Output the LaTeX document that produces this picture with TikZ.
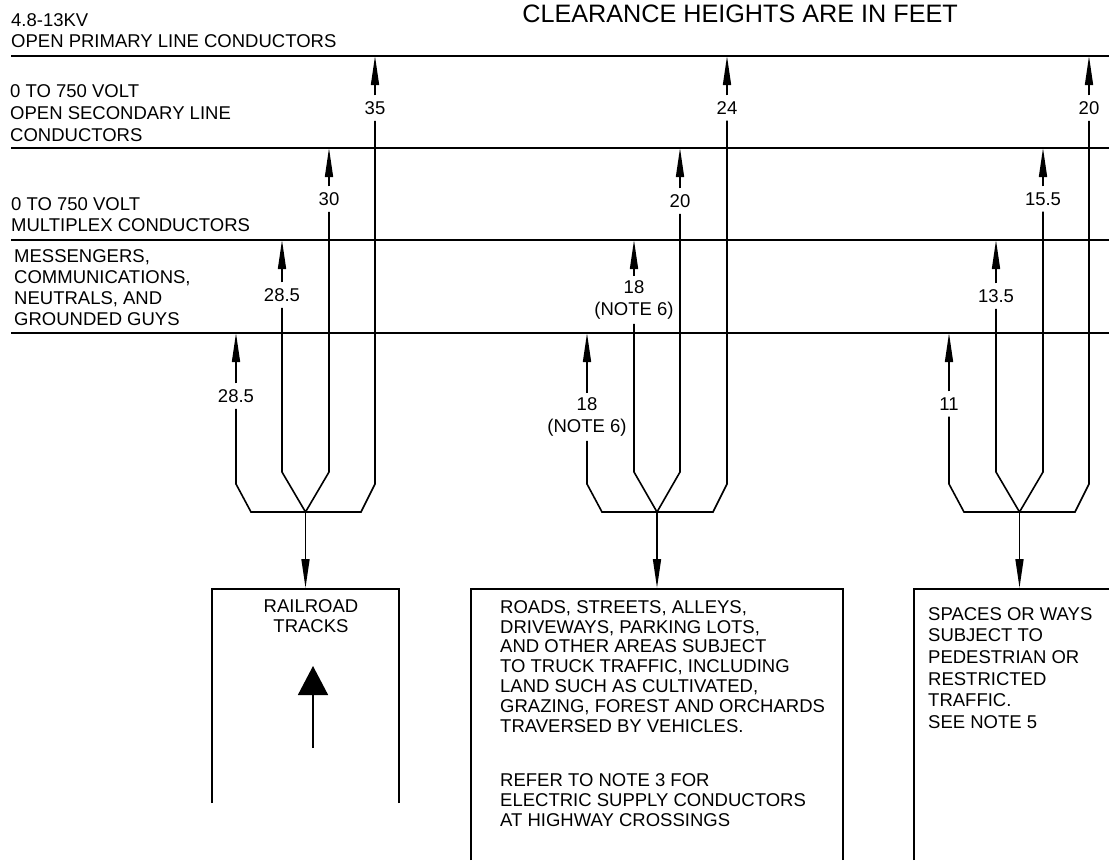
\documentclass[tikz,border=0pt]{standalone}
\usepackage{fontspec}
\setmainfont{Liberation Sans}
\usetikzlibrary{arrows.meta, calc}
% fourche sous une colonne : #1..#4 cotes (gauche a droite), #5 moyeu
\newcommand{\fork}[5]{
  \draw [wire] (#1.south) -- (#1.south |- 0,484) -- ++(15,28) -- ($(#4.south |- 0,512)+(-14,0)$) -- (#4.south |- 0,484) -- (#4.south);
  \draw [wire] (#2.south) -- (#2.south |- 0,472) -- (#5) -- (#3.south |- 0,472) -- (#3.south);
}
% boite ouverte en bas : gauche, droite, bas
\newcommand{\openbox}[3]{
  \draw [wire] (#1,#3) -- (#1,589);
  \draw [wire] (#2,#3) -- (#2,589);
  \draw [line width=2.6pt] (#1-0.8,589) -- (#2+0.8,589);
}
\begin{document}
\begin{tikzpicture}[x=1pt, y=-1pt,
    wire/.style={line width=1.6pt},
    dimline/.style={line width=1.6pt, -{Triangle[length=29pt,width=8pt]}},
    dim/.style={font=\fontsize{18.5}{21}\selectfont, inner xsep=2pt, inner ysep=6pt, align=center},
    dimtwo/.style={dim, inner ysep=4pt, font=\fontsize{18.5}{22.5}\selectfont},
    txt/.style={anchor=north west, inner sep=0pt, align=left, font=\fontsize{18.5}{21}\selectfont}]
    \useasboundingbox (0,0) rectangle (1109,862);

    %titre
    \node [anchor=base east, inner sep=0pt, font=\fontsize{25.2}{30}\selectfont] (title) at (958,23) {CLEARANCE HEIGHTS ARE IN FEET};

    %les conducteurs
    \coordinate (lnP) at (11,56);
    \coordinate (lnS) at (11,148);
    \coordinate (lnM) at (11,240);
    \coordinate (lnC) at (11,333);
    \foreach \c in {lnP,lnS,lnM,lnC}
      \draw [wire] (\c) -- (\c -| 1109,0);

    %noms des conducteurs
    \node [txt] (tP) at (11,13) {4.8-13KV\\OPEN PRIMARY LINE CONDUCTORS};
    \node [txt, font=\fontsize{18.5}{22}\selectfont] (tS) at (10,84) {0 TO 750 VOLT\\OPEN SECONDARY LINE\\CONDUCTORS};
    \node [txt] (tM) at (11,197) {0 TO 750 VOLT\\MULTIPLEX CONDUCTORS};
    \node [txt] (tC) at (14,249) {MESSENGERS,\\COMMUNICATIONS,\\NEUTRALS, AND\\GROUNDED GUYS};

    %cotes colonne rail
    \node [dim] (rP) at (375,108) {35};
    \node [dim] (rS) at (329,199) {30};
    \node [dim] (rM) at (282,295) {28.5};
    \node [dim] (rC) at (236,396) {28.5};
    %cotes colonne route
    \node [dim] (aP) at (727,108) {24};
    \node [dim] (aS) at (680,201) {20};
    \node [dimtwo] (aM) at (634,300) {18\\(NOTE 6)};
    \node [dimtwo] (aC) at (587,417) {18\\(NOTE 6)};
    %cotes colonne pietons
    \node [dim] (pP) at (1089,108) {20};
    \node [dim] (pS) at (1043,199) {15.5};
    \node [dim] (pM) at (996,296) {13.5};
    \node [dim] (pC) at (949,404) {11};

    %fleches vers les conducteurs
    \foreach \n/\l in {rP/lnP,rS/lnS,rM/lnM,rC/lnC,aP/lnP,aS/lnS,aM/lnM,aC/lnC,pP/lnP,pS/lnS,pM/lnM,pC/lnC}
      \draw [dimline] (\n) -- (\n |- \l);

    %fourches
    \coordinate (hubA) at (305.5,512);
    \coordinate (hubB) at (657,512);
    \coordinate (hubC) at (1019.5,512);
    \fork{rC}{rM}{rS}{rP}{hubA}
    \fork{aC}{aM}{aS}{aP}{hubB}
    \fork{pC}{pM}{pS}{pP}{hubC}

    %boites
    \openbox{212}{399}{803}
    \openbox{471}{843}{860}
    \openbox{914}{1112}{860}
    \coordinate (boxA) at (305.5,588);
    \coordinate (boxB) at (657,588);
    \coordinate (boxC) at (1019.5,588);
    \draw [dimline] (hubA) -- (boxA);
    \draw [dimline] (hubB) -- (boxB);
    \draw [dimline] (hubC) -- (boxC);

    %textes des boites
    \node [txt, anchor=north, align=center, font=\fontsize{18.5}{20}\selectfont] (rail) at (311,599) {RAILROAD\\TRACKS};
    \node [txt, font=\fontsize{18.5}{19.9}\selectfont] (road) at (500,600) {ROADS, STREETS, ALLEYS,\\DRIVEWAYS, PARKING LOTS,\\AND OTHER AREAS SUBJECT\\TO TRUCK TRAFFIC, INCLUDING\\LAND SUCH AS CULTIVATED,\\GRAZING, FOREST AND ORCHARDS\\TRAVERSED BY VEHICLES.\\[34pt]REFER TO NOTE 3 FOR\\ELECTRIC SUPPLY CONDUCTORS\\AT HIGHWAY CROSSINGS};
    \node [txt, font=\fontsize{18.5}{21.7}\selectfont] (walk) at (928,607) {SPACES OR WAYS\\SUBJECT TO\\PEDESTRIAN OR\\RESTRICTED\\TRAFFIC.\\SEE NOTE 5};

    %sens de circulation des voies
    \coordinate (trackS) at (313,748);
    \coordinate (trackN) at (313,666);
    \draw [line width=1.6pt, -{Triangle[length=29pt,width=30pt]}] (trackS) -- (trackN);
\end{tikzpicture}
\end{document}
